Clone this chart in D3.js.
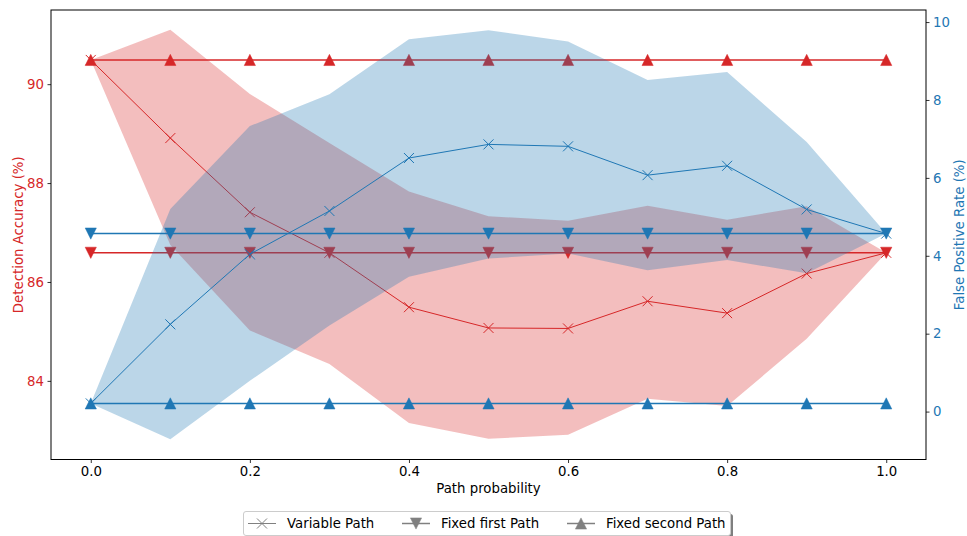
<!DOCTYPE html>
<html>
<head>
<meta charset="utf-8">
<script src="https://cdn.jsdelivr.net/npm/d3@7"></script>
<style>
  html, body { margin: 0; padding: 0; background: #fff; }
  svg { display: block; font-family: "DejaVu Sans", sans-serif; }
</style>
</head>
<body>
<svg id="chart" width="967" height="536"></svg>
<script>
// --- DATA ---
const probs = [0.0, 0.1, 0.2, 0.3, 0.4, 0.5, 0.6, 0.7, 0.8, 0.9, 1.0];
const xTicks = [0.0, 0.2, 0.4, 0.6, 0.8, 1.0];

// Detection accuracy (%) — left axis, red
const accVariable    = [90.49, 88.91, 87.41, 86.59, 85.49, 85.07, 85.06, 85.61, 85.37, 86.17, 86.59];
const accUpper       = [90.49, 91.10, 89.80, 88.81, 87.83, 87.33, 87.24, 87.54, 87.26, 87.53, 86.59];
const accLower       = [90.49, 86.75, 85.02, 84.34, 83.15, 82.83, 82.91, 83.64, 83.49, 84.85, 86.59];
const accFixedFirst  = [86.59, 86.59, 86.59, 86.59, 86.59, 86.59, 86.59, 86.59, 86.59, 86.59, 86.59];
const accFixedSecond = [90.49, 90.49, 90.49, 90.49, 90.49, 90.49, 90.49, 90.49, 90.49, 90.49, 90.49];
const accTicks = [84, 86, 88, 90];

// False positive rate (%) — right axis, blue
const fprVariable    = [0.21, 2.24, 4.04, 5.15, 6.51, 6.86, 6.81, 6.07, 6.31, 5.19, 4.57];
const fprUpper       = [0.21, 5.20, 7.33, 8.15, 9.56, 9.79, 9.50, 8.51, 8.72, 6.92, 4.57];
const fprLower       = [0.21, -0.71, 0.79, 2.21, 3.46, 3.93, 4.06, 3.63, 3.89, 3.55, 4.57];
const fprFixedFirst  = [4.57, 4.57, 4.57, 4.57, 4.57, 4.57, 4.57, 4.57, 4.57, 4.57, 4.57];
const fprFixedSecond = [0.21, 0.21, 0.21, 0.21, 0.21, 0.21, 0.21, 0.21, 0.21, 0.21, 0.21];
const fprTicks = [0, 2, 4, 6, 8, 10];

const legendLabels = ["Variable Path", "Fixed first Path", "Fixed second Path"];

// --- LAYOUT & STYLE ---
const red  = "#d62728";
const blue = "#1f77b4";
const gray = "#808080";
const fontSize = 13.3;
const plot = { left: 51, right: 926, top: 10, bottom: 459.5 };

const svg = d3.select("#chart");

const x  = d3.scaleLinear().domain([-0.05, 1.05]).range([plot.left, plot.right]);
const yL = d3.scaleLinear().domain([82.41, 91.50]).range([plot.bottom, plot.top]);
const yR = d3.scaleLinear().domain([-1.23, 10.31]).range([plot.bottom, plot.top]);

// clip so bands never spill out of the axes box
svg.append("defs").append("clipPath").attr("id", "plot-clip")
    .append("rect")
    .attr("x", plot.left).attr("y", plot.top)
    .attr("width", plot.right - plot.left).attr("height", plot.bottom - plot.top);

// marker path builders (centred on 0,0)
const triH = 5.6;
const triUp   = `M0,${-triH} L${triH},${triH} L${-triH},${triH} Z`;
const triDown = `M0,${triH} L${triH},${-triH} L${-triH},${-triH} Z`;
const crossR  = 5;
const crossX  = `M${-crossR},${-crossR} L${crossR},${crossR} M${-crossR},${crossR} L${crossR},${-crossR}`;

// draws one band + three series on a given y scale
function drawSeries(layer, y, color, lower, upper, variable, fixedFirst, fixedSecond) {
    const band = d3.area()
        .x((d, i) => x(probs[i]))
        .y0((d, i) => y(lower[i]))
        .y1((d, i) => y(upper[i]));

    layer.append("path")
        .datum(probs)
        .attr("d", band)
        .attr("fill", color)
        .attr("fill-opacity", 0.3);

    const line = vals => d3.line()
        .x((d, i) => x(probs[i]))
        .y((d, i) => y(vals[i]))(probs);

    const series = [
        { vals: variable,    marker: crossX,  width: 1,   filled: false },
        { vals: fixedFirst,  marker: triDown, width: 1.5, filled: true },
        { vals: fixedSecond, marker: triUp,   width: 1.5, filled: true }
    ];

    series.forEach(s => {
        layer.append("path")
            .attr("d", line(s.vals))
            .attr("fill", "none")
            .attr("stroke", color)
            .attr("stroke-width", s.width);

        layer.selectAll(null)
            .data(s.vals)
            .enter()
            .append("path")
            .attr("transform", (d, i) => `translate(${x(probs[i])},${y(d)})`)
            .attr("d", s.marker)
            .attr("fill", s.filled ? color : "none")
            .attr("stroke", color)
            .attr("stroke-width", s.filled ? 0.5 : 1);
    });
}

// --- RED (left axis) first, BLUE (twin axis) drawn on top ---
const redLayer  = svg.append("g").attr("clip-path", "url(#plot-clip)");
drawSeries(redLayer, yL, red, accLower, accUpper, accVariable, accFixedFirst, accFixedSecond);

const blueLayer = svg.append("g").attr("clip-path", "url(#plot-clip)");
drawSeries(blueLayer, yR, blue, fprLower, fprUpper, fprVariable, fprFixedFirst, fprFixedSecond);

// --- AXES ---
function styleAxis(g, labelColor) {
    g.select(".domain").remove();
    g.selectAll(".tick line").attr("stroke", "#000").attr("stroke-width", 0.8);
    g.selectAll(".tick text")
        .attr("fill", labelColor)
        .style("font-size", `${fontSize}px`)
        .style("font-family", "DejaVu Sans, sans-serif");
}

svg.append("g")
    .attr("transform", `translate(0,${plot.bottom})`)
    .call(d3.axisBottom(x).tickValues(xTicks).tickFormat(d3.format(".1f")).tickSize(3.5).tickPadding(3.5))
    .call(g => styleAxis(g, "#000"));

svg.append("g")
    .attr("transform", `translate(${plot.left},0)`)
    .call(d3.axisLeft(yL).tickValues(accTicks).tickFormat(d3.format("d")).tickSize(3.5).tickPadding(3.5))
    .call(g => styleAxis(g, red));

svg.append("g")
    .attr("transform", `translate(${plot.right},0)`)
    .call(d3.axisRight(yR).tickValues(fprTicks).tickFormat(d3.format("d")).tickSize(3.5).tickPadding(3.5))
    .call(g => styleAxis(g, blue));

// frame
svg.append("rect")
    .attr("x", plot.left).attr("y", plot.top)
    .attr("width", plot.right - plot.left).attr("height", plot.bottom - plot.top)
    .attr("fill", "none")
    .attr("stroke", "#000")
    .attr("stroke-width", 1);

// axis titles
svg.append("text")
    .attr("x", (plot.left + plot.right) / 2)
    .attr("y", 493)
    .attr("text-anchor", "middle")
    .style("font-size", `${fontSize}px`)
    .text("Path probability");

svg.append("text")
    .attr("transform", `translate(22.5,${(plot.top + plot.bottom) / 2}) rotate(-90)`)
    .attr("text-anchor", "middle")
    .attr("fill", red)
    .style("font-size", `${fontSize}px`)
    .text("Detection Accuracy (%)");

svg.append("text")
    .attr("transform", `translate(964,${(plot.top + plot.bottom) / 2}) rotate(-90)`)
    .attr("text-anchor", "middle")
    .attr("fill", blue)
    .style("font-size", `${fontSize}px`)
    .text("False Positive Rate (%)");

// --- LEGEND ---
const legend = { x: 243.5, y: 511.5, w: 487, h: 24 };
const legendG = svg.append("g");

legendG.append("rect")
    .attr("x", legend.x + 2.5).attr("y", legend.y + 2.5)
    .attr("width", legend.w).attr("height", legend.h)
    .attr("rx", 2.5)
    .attr("fill", "#000").attr("fill-opacity", 0.5);

legendG.append("rect")
    .attr("x", legend.x).attr("y", legend.y)
    .attr("width", legend.w).attr("height", legend.h)
    .attr("rx", 2.5)
    .attr("fill", "#fff")
    .attr("stroke", "#ccc")
    .attr("stroke-width", 1);

const legendMarkers = [crossX, triDown, triUp];
const legendHandleX = [248, 402, 567];

legendLabels.forEach((label, i) => {
    const hx = legendHandleX[i];
    const cy = legend.y + legend.h / 2;
    legendG.append("line")
        .attr("x1", hx).attr("x2", hx + 28)
        .attr("y1", cy).attr("y2", cy)
        .attr("stroke", gray)
        .attr("stroke-width", i === 0 ? 1 : 1.5);
    legendG.append("path")
        .attr("transform", `translate(${hx + 14},${cy})`)
        .attr("d", legendMarkers[i])
        .attr("fill", i === 0 ? "none" : gray)
        .attr("stroke", gray)
        .attr("stroke-width", i === 0 ? 1 : 0.5);
    legendG.append("text")
        .attr("x", hx + 39)
        .attr("y", cy + 4.5)
        .style("font-size", `${fontSize}px`)
        .attr("fill", "#000")
        .text(label);
});
</script>
</body>
</html>
